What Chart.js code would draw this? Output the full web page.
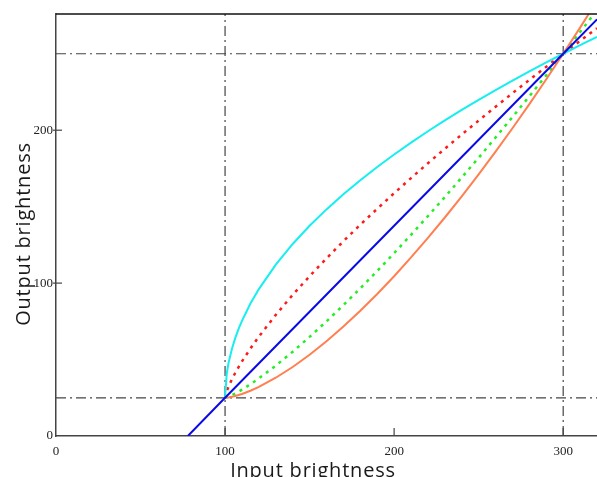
<!DOCTYPE html>
<html>
<head>
<meta charset="utf-8">
<script src="https://cdn.jsdelivr.net/npm/chart.js@4"></script>
<style>
  html, body { margin: 0; padding: 0; background: #ffffff; }
  #wrap { width: 597px; height: 477px; }
</style>
</head>
<body>
<div id="wrap"><canvas id="c" width="597" height="477"></canvas></div>
<script>
// ---- data ----
const inputX   = [100, 101, 102, 104, 106, 108, 110, 115, 120, 130, 140, 150, 160, 170, 180, 190, 200, 210, 220, 230, 240, 250, 260, 270, 280, 290, 300, 310, 320];
const cyanY    = [25, 40.9, 47.5, 56.8, 64.0, 70.0, 75.3, 86.6, 96.1, 112.1, 125.6, 137.5, 148.2, 158.1, 167.3, 175.9, 184.1, 191.9, 199.3, 206.4, 213.3, 219.9, 226.2, 232.5, 238.5, 244.3, 250, 255.6, 261.0];
const redY     = [25, 29.2, 32.1, 37.0, 41.2, 45.1, 48.8, 57.2, 65.0, 79.2, 92.3, 104.5, 116.2, 127.4, 138.2, 148.6, 158.8, 168.7, 178.4, 187.9, 197.2, 206.3, 215.3, 224.2, 232.9, 241.5, 250, 258.4, 266.7];
const greenY   = [25, 25.3, 25.7, 26.7, 27.8, 29.0, 30.3, 33.8, 37.7, 46.0, 55.1, 64.8, 75.0, 85.6, 96.6, 107.9, 119.6, 131.6, 143.8, 156.3, 169.1, 182.0, 195.2, 208.6, 222.2, 236.0, 250, 264.2, 278.5];
const orangeY  = [25, 25.1, 25.2, 25.6, 26.2, 26.8, 27.5, 29.6, 32.1, 38.1, 45.1, 53.1, 62.0, 71.6, 81.9, 92.9, 104.5, 116.8, 129.6, 142.9, 156.8, 171.1, 186.0, 201.3, 217.1, 233.3, 250, 267.1, 284.6];
const blueX    = [78, 100, 150, 200, 250, 300, 320];
const blueY    = [0, 25, 81.25, 137.5, 193.75, 250, 272.5];
const guideInputs  = [100, 300];
const guideOutputs = [25, 250];
const xTicks = [0, 100, 200, 300];
const yTicks = [0, 100, 200];
const xRange = [0, 320];
const yRange = [0, 276];
const xTitle = 'Input brightness';
const yTitle = 'Output brightness';

// ---- build datasets ----
const pts = (xs, ys) => xs.map((x, i) => ({ x: x, y: ys[i] }));
const guideStyle = {
  borderColor: '#444444', borderWidth: 1.2, borderDash: [10, 4, 2, 4],
  pointRadius: 0, fill: false, order: 10
};
const datasets = [];
guideOutputs.forEach(v => datasets.push(Object.assign({
  label: 'y=' + v, data: [{ x: xRange[0], y: v }, { x: xRange[1], y: v }]
}, guideStyle)));
guideInputs.forEach(v => datasets.push(Object.assign({
  label: 'x=' + v, data: [{ x: v, y: yRange[0] }, { x: v, y: yRange[1] }]
}, guideStyle)));

datasets.push({ label: 'cyan', data: pts(inputX, cyanY), borderColor: '#16eef0', borderWidth: 2, pointRadius: 0, order: 1 });
datasets.push({ label: 'red', data: pts(inputX, redY), borderColor: '#ff1a1a', borderWidth: 2.5, borderDash: [3, 5], pointRadius: 0, order: 1 });
datasets.push({ label: 'orange', data: pts(inputX, orangeY), borderColor: '#ff7f50', borderWidth: 2, pointRadius: 0, order: 1 });
datasets.push({ label: 'green', data: pts(inputX, greenY), borderColor: '#22ee22', borderWidth: 2.5, borderDash: [3, 5], pointRadius: 0, order: 1 });
datasets.push({ label: 'blue', data: pts(blueX, blueY), borderColor: '#0a0ae6', borderWidth: 2, pointRadius: 0, order: 0 });

// ---- frame, inward ticks, titles ----
const framePlugin = {
  id: 'frame',
  afterDraw(chart) {
    const { ctx, chartArea: a, scales } = chart;
    ctx.save();
    // top border
    ctx.strokeStyle = '#111111';
    ctx.lineWidth = 1.5;
    ctx.beginPath();
    ctx.moveTo(a.left, a.top);
    ctx.lineTo(a.right, a.top);
    ctx.stroke();
    // inward tick marks
    ctx.strokeStyle = '#444444';
    ctx.lineWidth = 1.2;
    scales.x.ticks.forEach(t => {
      if (t.value === xRange[0]) return;
      const px = scales.x.getPixelForValue(t.value);
      ctx.beginPath();
      ctx.moveTo(px, a.bottom);
      ctx.lineTo(px, a.bottom - 8);
      ctx.stroke();
    });
    scales.y.ticks.forEach(t => {
      if (t.value === yRange[0]) return;
      const py = scales.y.getPixelForValue(t.value);
      ctx.beginPath();
      ctx.moveTo(a.left - 3, py);
      ctx.lineTo(a.left + 6, py);
      ctx.stroke();
    });
    // axis titles
    ctx.fillStyle = '#1a1a1a';
    ctx.font = '20px "Open Sans", "Noto Sans", sans-serif';
    if ('letterSpacing' in ctx) ctx.letterSpacing = '0.8px';
    ctx.textAlign = 'center';
    ctx.textBaseline = 'alphabetic';
    ctx.fillText(xTitle, 313, 477);
    ctx.translate(29.5, 234);
    ctx.rotate(-Math.PI / 2);
    ctx.fillText(yTitle, 0, 0);
    ctx.restore();
  }
};

new Chart(document.getElementById('c'), {
  type: 'line',
  data: { datasets: datasets },
  plugins: [framePlugin],
  options: {
    responsive: false,
    animation: false,
    devicePixelRatio: 1,
    layout: { padding: { top: 14, left: 0, right: 0, bottom: 0 } },
    plugins: { legend: { display: false }, tooltip: { enabled: false } },
    elements: { line: { tension: 0 }, point: { radius: 0 } },
    scales: {
      x: {
        type: 'linear', min: xRange[0], max: xRange[1],
        afterFit: s => { s.height = 41; },
        afterBuildTicks: s => { s.ticks = xTicks.map(v => ({ value: v })); },
        ticks: {
          font: { family: '"Liberation Serif", serif', size: 13 },
          color: '#222222', padding: 8, maxRotation: 0
        },
        grid: { display: true, drawOnChartArea: false, drawTicks: false },
        border: { display: true, color: '#444444', width: 1.5 }
      },
      y: {
        type: 'linear', min: yRange[0], max: yRange[1],
        afterFit: s => { s.width = 56; },
        afterBuildTicks: s => { s.ticks = yTicks.map(v => ({ value: v })); },
        ticks: {
          font: { family: '"Liberation Serif", serif', size: 13 },
          color: '#222222', padding: 3
        },
        grid: { display: true, drawOnChartArea: false, drawTicks: false },
        border: { display: true, color: '#444444', width: 1.5 }
      }
    }
  }
});
</script>
</body>
</html>
